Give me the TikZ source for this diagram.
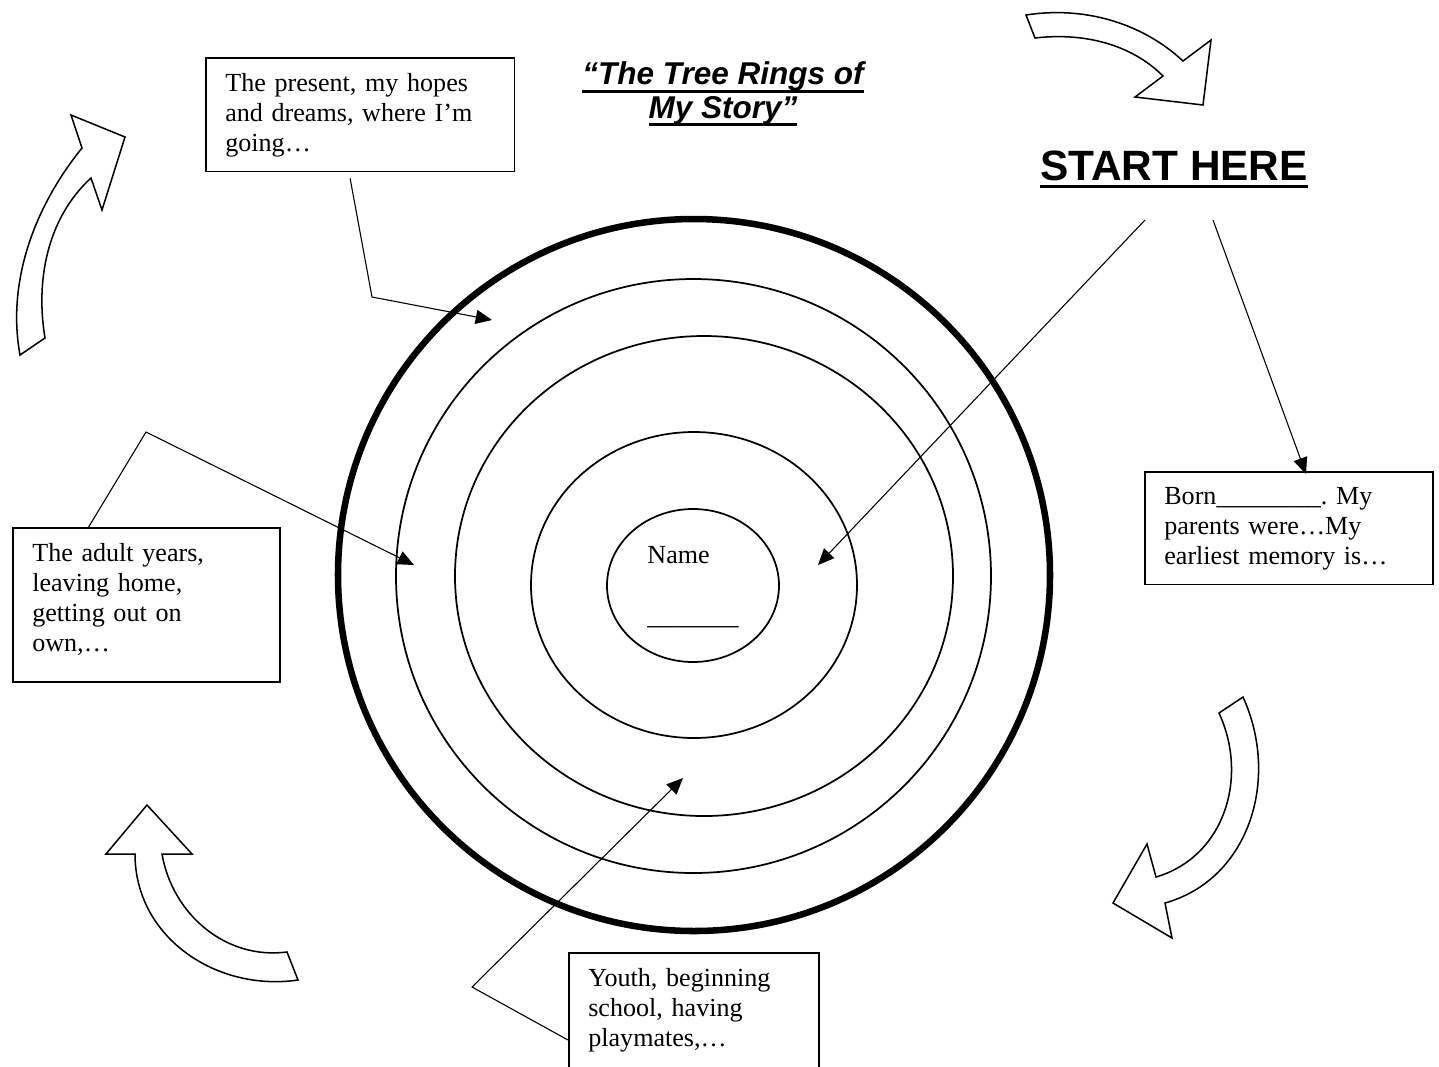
\documentclass[tikz,border=0pt]{standalone}
\usepackage{fontspec}
\setmainfont{Liberation Serif}
\newfontfamily\arialfont{Liberation Sans}
\newcommand{\ulbar}[1]{\leavevmode\setbox0\hbox{#1}\rlap{\vrule width\wd0 height-2.3pt depth3.7pt}\box0}
\frenchspacing
\usepackage{tikz}
\usetikzlibrary{arrows.meta,calc}

\begin{document}
\begin{tikzpicture}[x=0.46pt,y=-0.46pt,
  storybox/.style={draw,line width=0.7pt,anchor=north west,align=left,
    inner xsep=9pt,inner ysep=7pt,font=\fontsize{12}{13.8}\selectfont},
  pointer/.style={line width=0.5pt,-{Triangle[length=7.5pt,width=6.5pt]}},
  ring/.style={line width=0.8pt},
  bigarrow/.style={draw,line width=0.7pt,fill=white,line join=miter}]
\useasboundingbox (0,0) rectangle (1439,1066);

\draw[line width=3pt] (694,575) ellipse [x radius=356,y radius=356];
\draw[ring] (693.5,576) ellipse [x radius=297.5,y radius=297];
\draw[ring] (704,576) ellipse [x radius=249,y radius=240];
\draw[ring] (694,585) ellipse [x radius=163,y radius=153];
\draw[ring] (693,585.5) ellipse [x radius=86,y radius=76.5];
\node[anchor=base west,align=left,inner sep=0pt,font=\fontsize{12}{13.8}\selectfont] (name) at (647,624) {Name\\[14pt]\_\_\_\_\_\_\_};

\node[anchor=base,align=center,inner sep=0pt,
  font=\arialfont\bfseries\itshape\fontsize{14.5}{15.2}\selectfont] (title) at (723,118)
  {\ulbar{“The Tree Rings of}\\\ulbar{My Story”}};
\node[anchor=base,inner sep=0pt,font=\arialfont\bfseries\fontsize{19.5}{22}\selectfont] (start) at (1174,180) {\ulbar{START HERE}};

\node[storybox,text width=124pt,text depth=30pt] (present) at (205,57)
  {The present, my hopes\\and dreams, where I’m\\going…};
\node[storybox,text width=105pt,text depth=48.5pt] (adult) at (12,527)
  {The adult years,\\leaving home,\\getting out on\\own,…};
\node[storybox,text width=114.5pt,text depth=30pt] (born) at (1144,471)
  {Born\_\_\_\_\_\_\_\_. My\\parents were…My\\earliest memory is…};
\node[storybox,text width=97pt,text depth=60pt] (youth) at (568,952)
  {Youth, beginning\\school, having\\playmates,…};

\coordinate (presentfoot) at ($(present.south)+(-10,6)$);
\coordinate (presentbend) at (372,297);
\coordinate (presenttip) at (492,320);
\coordinate (adultfoot) at ($(adult.north west)!0.285!(adult.north east)$);
\coordinate (adultbend) at (146,432);
\coordinate (adulttip) at (414,565);
\coordinate (startright) at (1213,220);
\coordinate (startleft) at (1145,220);
\coordinate (borntip) at (1306,474);
\coordinate (centretip) at (818,565);
\coordinate (youthfoot) at (568,1040);
\coordinate (youthbend) at (472,987);
\coordinate (youthtip) at (683,778);

\draw[pointer] (presentfoot) -- (presentbend) -- (presenttip);
\draw[pointer] (adultfoot) -- (adultbend) -- (adulttip);
\draw[pointer] (startright) -- (borntip);
\draw[pointer] (startleft) -- (centretip);
\draw[pointer] (youthfoot) -- (youthbend) -- (youthtip);

\draw[bigarrow] (20,355) -- (45,338) .. controls (35.3,279.8) and (47.5,217.9) .. (91,178)
  -- (102,210) -- (125,137) -- (71,115) -- (82,148) .. controls (35,206) and (6.5,281) .. (20,355) -- cycle;
\draw[bigarrow] (1026,15) -- (1035,38) .. controls (1081.5,32.5) and (1130,43) .. (1163,76)
  -- (1135,97) -- (1203,105) -- (1211,40) -- (1183,61) .. controls (1141,22) and (1082.7,6.1) .. (1026,15) -- cycle;
\draw[bigarrow] (1219,713) -- (1243,697) .. controls (1280,778) and (1250,879) .. (1165,903)
  -- (1172,938) -- (1113,903) -- (1147,844) -- (1156,877) .. controls (1224,857) and (1249,778) .. (1219,713) -- cycle;
\draw[bigarrow] (147,805) -- (106,854) -- (135,854) .. controls (135,937) and (216,992) .. (298,980)
  -- (287,952) .. controls (226,960) and (172.5,914.6) .. (162,854) -- (192,854) -- cycle;
\end{tikzpicture}
\end{document}
